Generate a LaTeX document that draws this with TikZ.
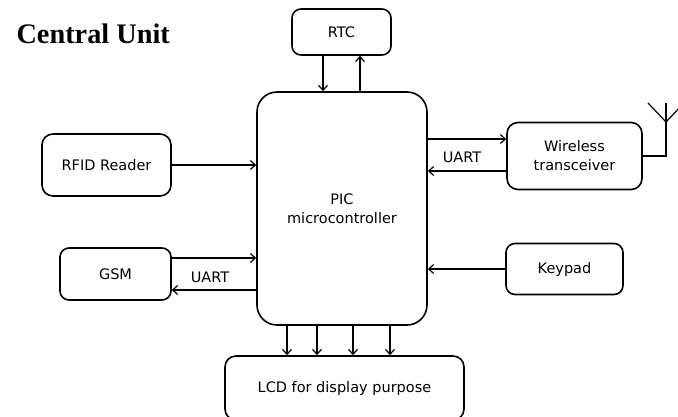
\documentclass[tikz,border=0pt]{standalone}
\usepackage{fontspec}
\setmainfont{DejaVu Sans}
\newfontfamily\titlefont{Liberation Serif}
\usepackage{tikz}
\usetikzlibrary{arrows.meta}

\begin{document}
\begin{tikzpicture}[x=1pt, y=-1pt,
    every node/.style={font=\fontsize{14.5}{19}\selectfont},
    block/.style={rectangle, draw, line width=1.6pt, rounded corners=9pt, align=center, inner sep=0pt},
    arr/.style={-{Straight Barb[length=5pt, width=9pt]}, line width=1.2pt}]
    \useasboundingbox (0,0) rectangle (678,416);

    \node[anchor=base west, font=\titlefont\bfseries\fontsize{28.3}{30}\selectfont] (titel) at (13,43) {Central Unit};

    \node[block, minimum width=170pt, minimum height=233pt, rounded corners=20pt] (pic) at (342,208.5) {PIC\\microcontroller};
    \node[block, minimum width=99pt, minimum height=46pt] (rtc) at (341.5,32) {RTC};
    \node[block, minimum width=129pt, minimum height=62pt, rounded corners=11pt] (rfid) at (106.5,165) {RFID Reader};
    \node[block, minimum width=111pt, minimum height=52pt] (gsm) at (115.5,274) {GSM};
    \node[block, minimum width=135pt, minimum height=67pt, rounded corners=11pt] (wireless) at (574.5,156) {Wireless\\transceiver};
    \node[block, minimum width=117pt, minimum height=51pt] (keypad) at (564.5,269) {Keypad};
    \node[block, minimum width=239pt, minimum height=64pt, rounded corners=11pt] (lcd) at (344.5,388) {LCD for display purpose};

    \node (uart1) at (462,157) {UART};
    \node (uart2) at (210,277) {UART};

    % RTC
    \draw[arr] ([xshift=-18.5pt]rtc.south) -- ([xshift=-18.5pt]rtc.south |- pic.north);
    \draw[arr] ([xshift=18.5pt]rtc.south |- pic.north) -- ([xshift=18.5pt]rtc.south);

    % Eingaenge links und rechts
    \draw[arr] (rfid.east) -- (rfid.east -| pic.west);
    \draw[arr] (keypad.west) -- (keypad.west -| pic.east);
    \draw[arr] ([yshift=16pt]gsm.east) -- ([yshift=16pt]gsm.east -| pic.west);
    \draw[arr] ([yshift=-16pt]gsm.east -| pic.west) -- ([yshift=-16pt]gsm.east);
    \draw[arr] ([yshift=17pt]wireless.west -| pic.east) -- ([yshift=17pt]wireless.west);
    \draw[arr] ([yshift=-15pt]wireless.west) -- ([yshift=-15pt]wireless.west -| pic.east);

    % LCD
    \foreach \dx in {-55,-25,11,48}
        \draw[arr] ([xshift=\dx pt]pic.south) -- ([xshift=\dx pt]pic.south |- lcd.north);

    % Antenne
    \coordinate (ant) at (666,122);
    \draw[line width=1.2pt] (wireless.east) -| (666,103);
    \draw[line width=1.2pt] (648,103) -- (ant) -- (684,103);
\end{tikzpicture}
\end{document}
